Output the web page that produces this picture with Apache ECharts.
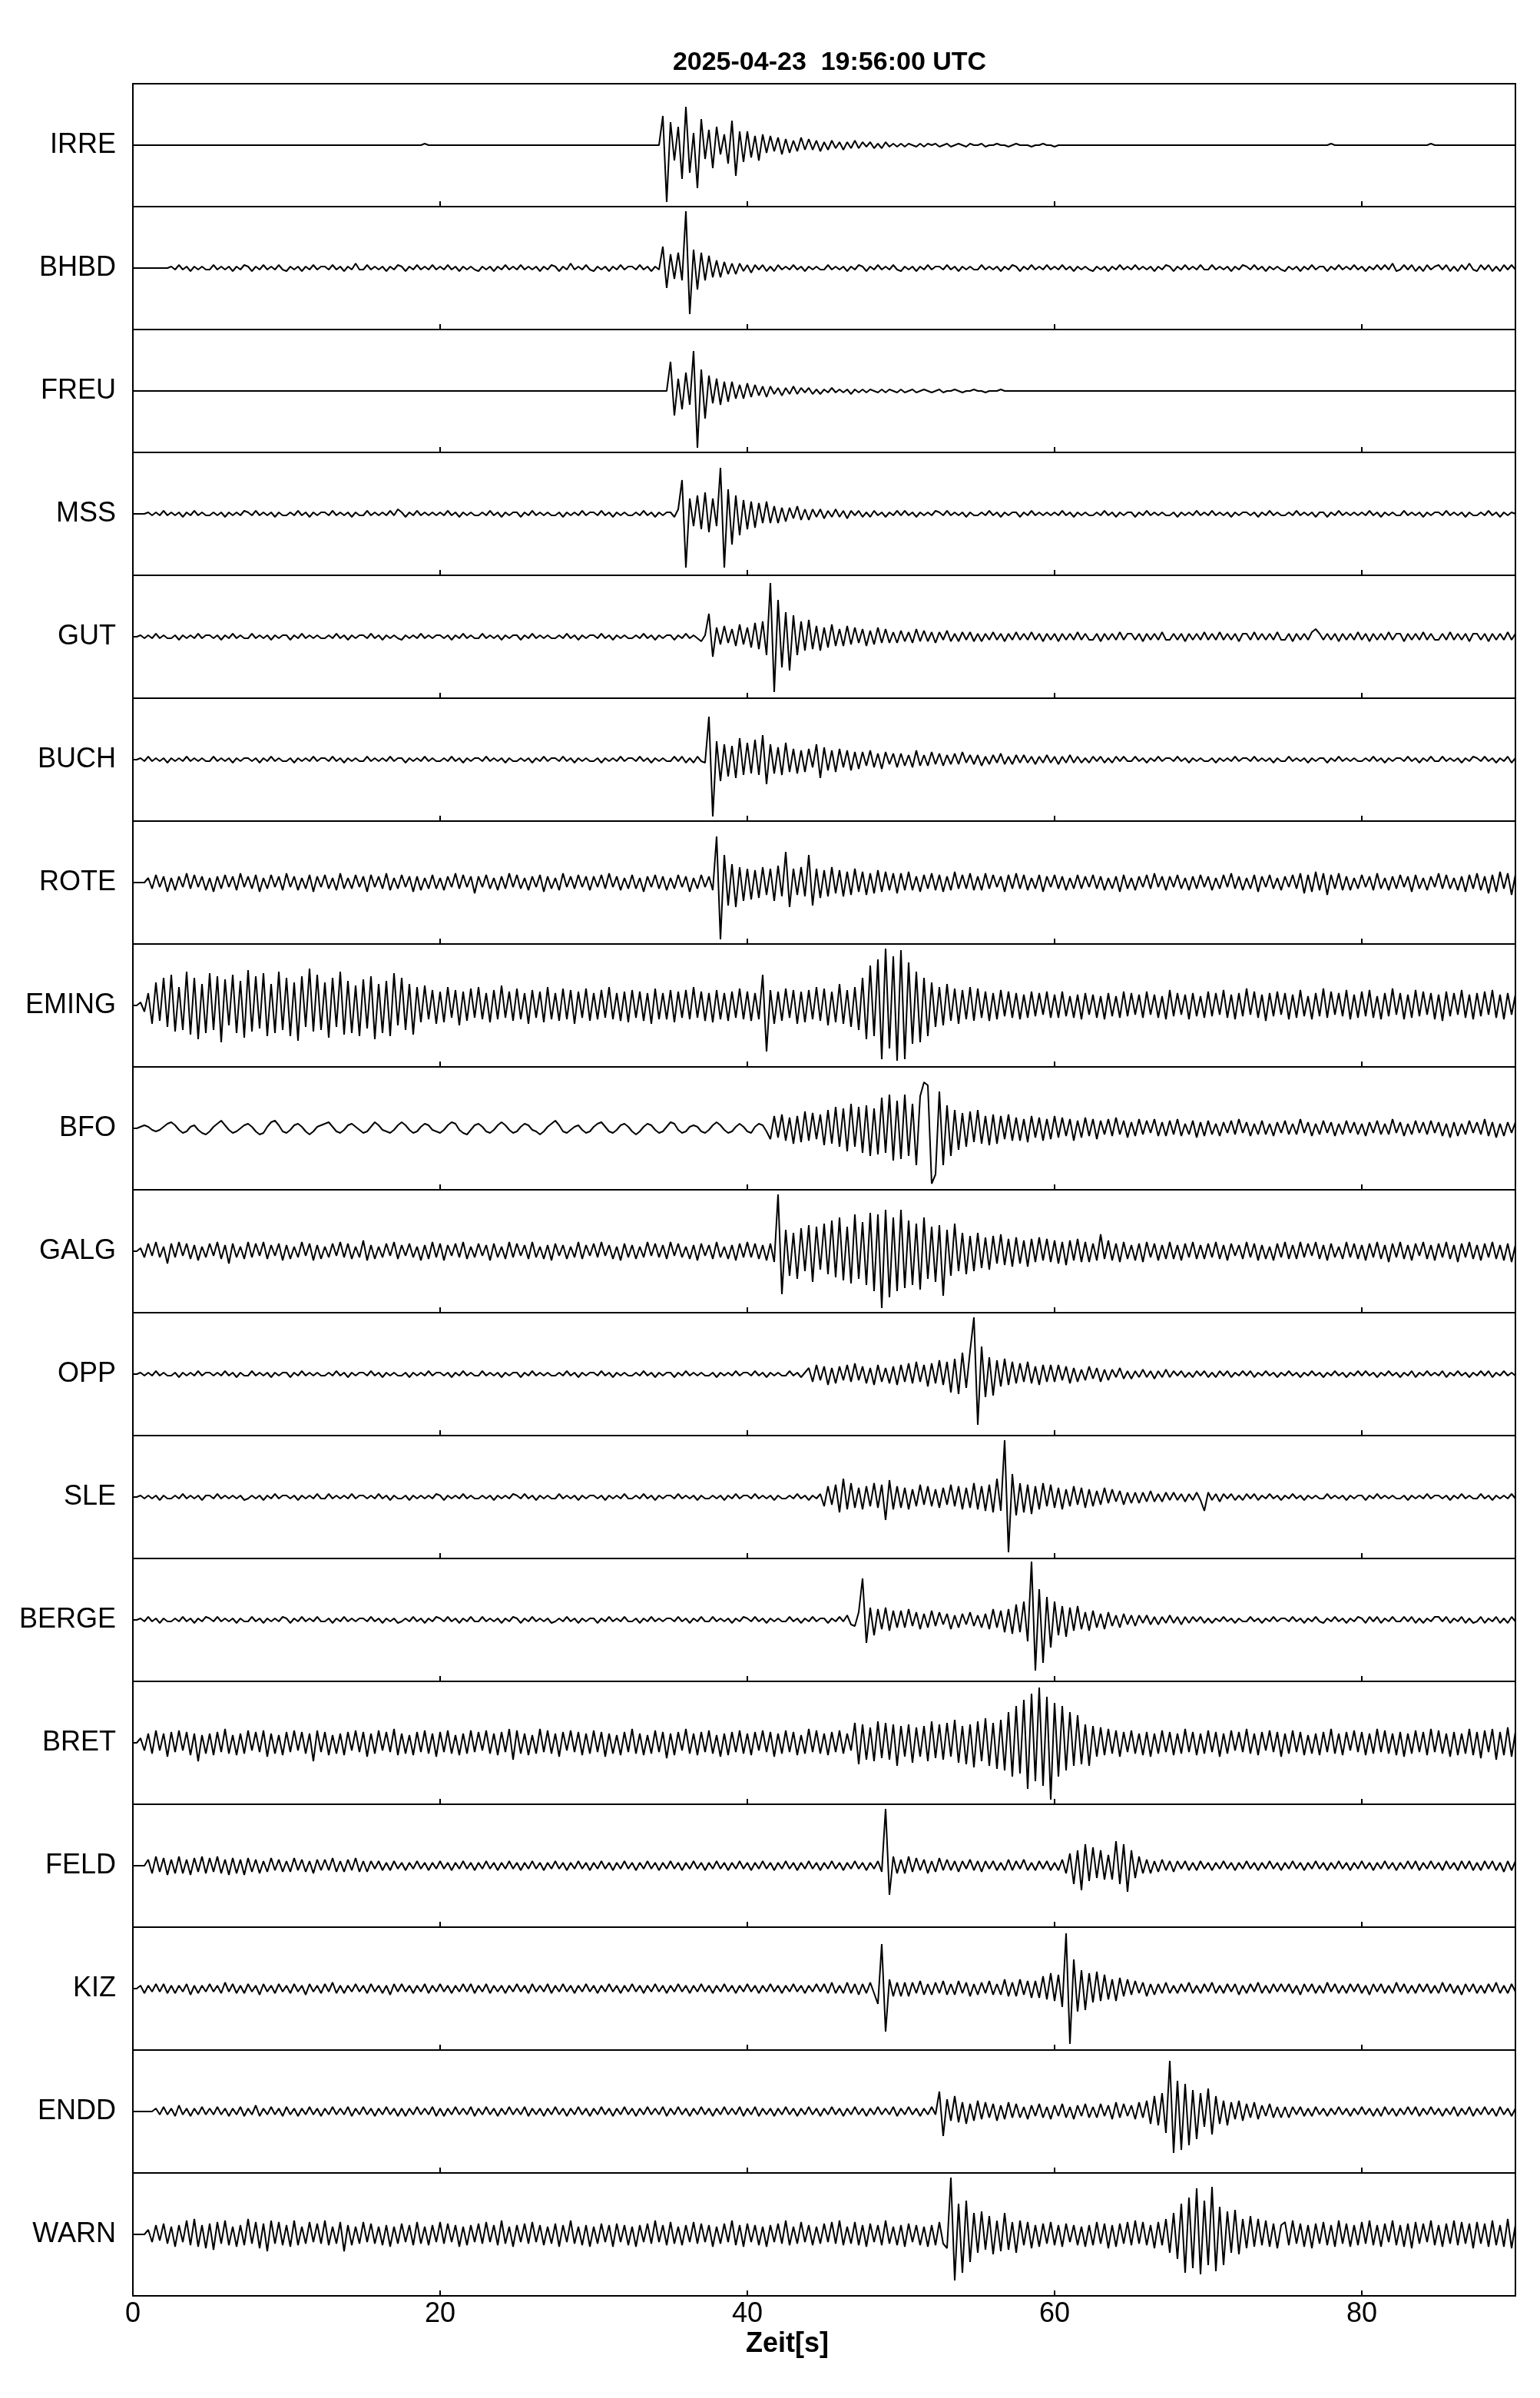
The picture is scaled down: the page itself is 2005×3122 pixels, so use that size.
<!DOCTYPE html>
<html>
<head>
<meta charset="utf-8">
<script src="https://cdn.jsdelivr.net/npm/echarts@6/dist/echarts.min.js"></script>
<style>
  html, body { margin: 0; background: #fff; }
  #chart { width: 2005px; height: 3122px; }
</style>
</head>
<body>
<div id="chart"></div>
<script>
// one sample every 0.25 s, 0 .. 90 s, amplitude in panel units (-40 .. 40)
const dt = 0.25;
const stations = ['IRRE', 'BHBD', 'FREU', 'MSS', 'GUT', 'BUCH', 'ROTE', 'EMING', 'BFO',
  'GALG', 'OPP', 'SLE', 'BERGE', 'BRET', 'FELD', 'KIZ', 'ENDD', 'WARN'];
const xTickStep = 20;
const xMax = 90;
const titleText = '2025-04-23  19:56:00 UTC';
const xName = 'Zeit[s]';

const IRRE = [
  0,0,0,0,0,0,0,0,0,0, 0,0,0,0,0,0,0,0,0,0, 0,0,0,0,0,0,0,0,0,0, 0,0,0,0,0,0,0,0,0,0,
  0,0,0,0,0,0,0,0,0,0, 0,0,0,0,0,0,0,0,0,0, 0,0,0,0,0,0,0,0,0,0, 0,0,0,0,0,0,1,0,0,0,
  0,0,0,0,0,0,0,0,0,0, 0,0,0,0,0,0,0,0,0,0, 0,0,0,0,0,0,0,0,0,0, 0,0,0,0,0,0,0,0,0,0,
  0,0,0,0,0,0,0,0,0,0, 0,0,0,0,0,0,0,0,19,-37, 15,-10,12,-22,25,-18,8,-28,17,-9, 10,-15,12,-6,7,-12,16,-20,9,-11,
  9,-8,6,-10,7,-5,6,-4,5,-6, 4,-5,3,-4,5,-3,4,-3,3,-4, 2,-3,3,-2,2,-3,2,-2,3,-2, 2,-1,2,-2,1,-2,2,-1,1,-1,
  1,-1,1,0,-1,1,-1,1,0,1, -1,0,1,-1,0,1,0,-1,1,0, 0,1,-1,0,0,1,0,0,-1,0, 1,0,0,0,-1,0,0,1,0,0,
  -1,0,0,0,0,0,0,0,0,0, 0,0,0,0,0,0,0,0,0,0, 0,0,0,0,0,0,0,0,0,0, 0,0,0,0,0,0,0,0,0,0,
  0,0,0,0,0,0,0,0,0,0, 0,0,0,0,0,0,0,0,0,0, 0,0,0,0,0,0,0,0,0,0, 0,0,1,0,0,0,0,0,0,0,
  0,0,0,0,0,0,0,0,0,0, 0,0,0,0,0,0,0,0,1,0, 0,0,0,0,0,0,0,0,0,0, 0,0,0,0,0,0,0,0,0,0,
  0];
const BHBD = [
  0,0,0,0,0,0,0,0,0,0, 1,-1,2,-1,1,-2,1,-1,1,-1, -1,2,-1,1,-1,1,-2,1,-1,2, 1,-2,1,-1,2,-1,1,-1,2,-1,
  -2,1,-1,1,-2,1,-1,2,-1,1, 1,-1,2,-1,1,-2,1,-1,3,-1, -1,2,-1,1,-1,1,-2,1,-1,2, 1,-2,1,-1,2,-1,1,-1,2,-1,
  1,-1,2,-1,1,-2,1,-1,1,-1, -2,1,-1,1,-2,1,-1,2,-1,1, -1,2,-1,1,-1,1,-2,1,-1,2, 1,-2,1,-1,3,-1,1,-1,2,-1,
  -2,1,-1,1,-2,1,-1,2,-1,1, 1,-1,2,-1,1,-2,1,-1,14,-13, 9,-7,10,-8,37,-30,12,-14,10,-8, 8,-6,5,-6,4,-4,3,-4,3,-2,
  2,-3,2,-1,2,-2,1,-2,2,-1, 1,-1,2,-1,1,-2,1,-1,1,-1, -1,2,-1,1,-1,1,-2,1,-1,2, 1,-2,1,-1,2,-1,1,-1,2,-1,
  -2,1,-1,1,-2,1,-1,2,-1,1, 1,-1,2,-1,1,-2,1,-1,1,-1, -1,2,-1,1,-1,1,-2,1,-1,2, 1,-2,1,-1,2,-1,1,-1,2,-1,
  1,-1,2,-1,1,-2,1,-1,1,-1, -2,1,-1,1,-2,1,-1,2,-1,1, -1,2,-1,1,-1,1,-2,1,-1,2, 1,-2,1,-1,2,-1,1,-1,2,-1,
  -1,2,-1,1,-1,1,-2,1,-1,2, 1,-1,2,-1,1,-2,1,-1,1,-1, -2,1,-1,1,-2,1,-1,2,-1,1, 1,-2,1,-1,2,-1,1,-1,2,-1,
  1,-2,1,-1,2,-1,2,-1,3,-2, -1,2,-1,2,-2,1,-2,2,-1,1, 2,-1,2,-2,1,-2,2,-1,3,-1, -2,2,-1,2,-2,1,-2,2,-1,2,
  -1];
const FREU = [
  0,0,0,0,0,0,0,0,0,0, 0,0,0,0,0,0,0,0,0,0, 0,0,0,0,0,0,0,0,0,0, 0,0,0,0,0,0,0,0,0,0,
  0,0,0,0,0,0,0,0,0,0, 0,0,0,0,0,0,0,0,0,0, 0,0,0,0,0,0,0,0,0,0, 0,0,0,0,0,0,0,0,0,0,
  0,0,0,0,0,0,0,0,0,0, 0,0,0,0,0,0,0,0,0,0, 0,0,0,0,0,0,0,0,0,0, 0,0,0,0,0,0,0,0,0,0,
  0,0,0,0,0,0,0,0,0,0, 0,0,0,0,0,0,0,0,0,0, 19,-16,8,-12,12,-9,26,-37,14,-18, 10,-8,8,-9,6,-7,6,-5,4,-5,
  5,-4,4,-3,3,-4,3,-2,2,-3, 2,-2,3,-2,2,-1,2,-2,1,-2, 1,-1,2,-1,1,-1,1,-2,1,-1, 1,-1,1,0,-1,1,-1,1,0,-1,
  1,-1,0,1,-1,0,1,0,-1,0, 1,-1,0,0,1,0,-1,0,0,1, 0,0,-1,0,0,0,1,0,0,0, 0,0,0,0,0,0,0,0,0,0,
  0,0,0,0,0,0,0,0,0,0, 0,0,0,0,0,0,0,0,0,0, 0,0,0,0,0,0,0,0,0,0, 0,0,0,0,0,0,0,0,0,0,
  0,0,0,0,0,0,0,0,0,0, 0,0,0,0,0,0,0,0,0,0, 0,0,0,0,0,0,0,0,0,0, 0,0,0,0,0,0,0,0,0,0,
  0,0,0,0,0,0,0,0,0,0, 0,0,0,0,0,0,0,0,0,0, 0,0,0,0,0,0,0,0,0,0, 0,0,0,0,0,0,0,0,0,0,
  0];
const MSS = [
  0,0,0,0,1,-1,1,-1,2,-1, 1,-1,1,-2,1,-1,2,-1,1,-1, -1,1,-1,1,-2,1,-1,1,-1,2, 1,-1,2,-1,1,-1,1,-2,1,-1,
  -1,1,-1,2,-1,1,-2,1,-1,1, 1,-1,2,-1,1,-1,1,-2,1,-1, -1,2,-1,1,-1,1,-1,2,-1,3, 1,-2,1,-1,2,-1,1,-1,1,-1,
  1,-1,2,-1,1,-2,1,-1,1,-1, -1,1,-1,2,-1,1,-2,1,-1,1, 1,-2,1,-1,2,-1,1,-1,1,-1, -1,1,-2,1,-1,1,-1,2,-1,1,
  1,-1,2,-1,1,-2,1,-1,1,-1, -1,1,-1,2,-1,1,-2,1,-1,1, 1,-2,3,22,-35,10,-8,12,-10,14, -12,10,-8,30,-35,16,-20,12,-14,9,
  -10,8,-9,7,-6,8,-6,5,-6,4, -5,4,-3,5,-4,3,-4,3,-2,3, -3,2,-2,3,-2,2,-3,2,-1,2, -2,1,-2,2,-1,1,-2,1,-1,2,
  -1,2,-1,1,-2,1,-1,1,-1,2, 1,-1,2,-1,1,-1,1,-2,1,-1, -1,1,-1,2,-1,1,-2,1,-1,1, 1,-2,1,-1,2,-1,1,-1,1,-1,
  1,-1,2,-1,1,-2,1,-1,1,-1, -1,1,-1,2,-1,1,-2,1,-1,1, 1,-2,1,-1,2,-1,1,-1,1,-1, -1,1,-2,1,-1,1,-1,2,-1,1,
  -1,2,-1,1,-1,1,-2,1,-1,1, 1,-1,1,-2,1,-1,2,-1,1,-1, -1,1,-1,2,-1,1,-1,1,-2,1, 1,-2,1,-1,2,-1,1,-1,1,-1,
  1,-1,2,-1,1,-2,1,-1,1,-1, -1,2,-1,1,-1,1,-2,1,-1,1, 1,-1,2,-1,1,-1,1,-2,1,-1, -1,1,-1,2,-1,1,-2,1,-1,1,
  0];
const GUT = [
  0,0,1,-1,1,-1,2,-1,1,-1, -1,1,-2,1,-1,1,-1,2,-1,1, 1,-1,1,-2,1,-1,2,-1,1,-1, -1,2,-1,1,-1,1,-2,1,-1,1,
  1,-2,1,-1,2,-1,1,-1,1,-1, -1,1,-1,2,-1,1,-2,1,-1,1, 1,-1,2,-1,1,-2,1,-1,1,-1, -2,1,-1,1,-1,2,-1,1,-1,1,
  1,-1,1,-2,1,-1,2,-1,1,-1, -1,2,-1,1,-1,1,-2,1,-1,1, 1,-2,1,-1,2,-1,1,-1,1,-1, -1,1,-1,2,-1,1,-2,1,-1,1,
  1,-1,2,-1,1,-2,1,-1,1,-1, -1,1,-1,2,-1,1,-2,1,-1,1, 1,-2,1,-1,2,-1,1,-1,-3,1, 15,-13,6,-5,7,-4,5,-6,8,-5,
  6,-7,9,-8,10,-12,35,-36,24,-20, 16,-22,14,-12,10,-9,11,-8,7,-9, 6,-7,8,-6,5,-6,7,-5,6,-4, 5,-6,4,-5,6,-4,5,-4,3,-4,
  4,-3,3,-4,5,-3,4,-3,3,-4, 3,-2,4,-3,2,-3,3,-2,3,-3, 2,-3,2,-2,3,-2,2,-3,2,-2, 3,-2,2,-2,3,-2,2,-3,2,-2,
  2,-3,2,-2,2,-2,3,-2,2,-2, -2,2,-3,2,-2,2,-2,3,-2,2, 2,-2,2,-3,2,-2,2,-2,3,-2, -2,2,-2,2,-3,2,-2,2,-2,3,
  -2,2,-2,3,-2,2,-2,2,-3,2, 2,-2,3,-2,2,-2,2,-2,3,-2, -2,2,-3,2,-2,2,-2,3,5,2, -2,2,-2,2,-3,2,-2,2,-2,3,
  -2,2,-3,2,-2,2,-2,3,-2,2, 2,-3,2,-2,2,-2,3,-2,2,-2, -2,2,-2,3,-2,2,-2,2,-3,2, 2,-2,2,-3,2,-2,2,-2,3,-2,
  2];
const BUCH = [
  0,0,1,-1,2,-1,1,-1,1,-2, 1,-1,1,-1,2,-1,1,-1,1,-1, -1,2,-1,1,-1,1,-2,1,-1,1, 1,-1,1,-2,1,-1,2,-1,1,-1,
  -1,1,-2,1,-1,1,-1,2,-1,1, 1,-1,2,-1,1,-2,1,-1,1,-1, -1,2,-1,1,-1,1,-1,2,-1,1, 1,-2,1,-1,1,-1,2,-1,1,-1,
  -1,1,-1,2,-1,1,-2,1,-1,1, 1,-1,2,-1,1,-1,1,-2,1,-1, -1,1,-1,1,-2,1,-1,2,-1,1, 1,-1,2,-1,1,-2,1,-1,1,-1,
  -1,1,-2,1,-1,1,-1,2,-1,1, 1,-1,2,-1,1,-2,1,-1,1,-1, -1,2,-1,2,-2,1,-2,2,-1,-2, 28,-37,12,-14,10,-11,9,-12,14,-10,
  11,-9,13,-10,16,-16,10,-9,8,-10, 11,-8,7,-9,6,-8,7,-5,10,-12, 8,-7,6,-8,7,-5,6,-7,5,-6, 5,-4,6,-5,4,-6,5,-3,4,-5,
  4,-4,3,-5,6,-4,3,-4,5,-3, 4,-4,3,-3,4,-3,5,-2,3,-3, 3,-4,2,-3,3,-2,4,-3,2,-3, 3,-2,3,-2,2,-3,2,-2,3,-2,
  2,-3,2,-2,3,-2,2,-2,1,-2, 2,-1,2,-2,1,-2,2,-1,2,-1, -1,2,-1,1,-2,1,-1,2,-1,1, 1,-1,2,-1,1,-2,1,-1,1,-1,
  -1,1,-2,1,-1,1,-1,2,-1,1, 1,-1,2,-1,1,-1,1,-2,1,-1, -1,2,-1,1,-1,1,-2,1,-1,1, 1,-2,1,-1,2,-1,1,-1,1,-1,
  -1,1,-1,2,-1,1,-2,1,-1,1, 1,-1,2,-1,1,-2,1,-1,2,-1, -1,2,-1,1,-1,1,-2,1,-1,2, 1,-1,2,-1,1,-2,1,-1,2,-2,
  1];
const ROTE = [
  0,0,0,0,3,-4,5,-3,4,-6, 3,-5,4,-3,6,-4,5,-3,4,-5, 3,-6,4,-4,5,-3,4,-5,6,-3, 4,-4,5,-6,3,-4,5,-3,4,-5,
  6,-3,4,-5,3,-4,5,-6,4,-3, 5,-4,3,-5,6,-4,3,-4,5,-3, 4,-6,5,-3,4,-4,6,-5,3,-4, 5,-3,4,-6,4,-5,3,-4,5,-4,
  3,-5,4,-3,6,-4,5,-3,4,-7, 4,-3,5,-4,3,-5,4,-4,6,-3, 5,-4,3,-5,4,-3,5,-6,4,-4, 3,-5,6,-3,4,-4,5,-3,4,-5,
  4,-3,5,-4,6,-3,4,-5,3,-4, 5,-4,3,-6,4,-3,5,-4,4,-5, 3,-4,5,-3,4,-6,3,-4,5,-3, 4,-5,30,-37,18,-15,12,-16,10,-12,
  9,-11,8,-10,10,-8,9,-12,11,-9, 20,-16,9,-8,10,-9,18,-15,9,-10, 8,-9,10,-7,8,-9,7,-8,9,-6, 7,-8,6,-7,8,-6,7,-5,6,-7,
  6,-5,7,-5,4,-6,5,-4,6,-5, 5,-6,4,-5,7,-4,5,-4,6,-5, 4,-5,6,-4,5,-3,4,-6,5,-4, 6,-4,5,-5,3,-4,5,-6,4,-3,
  5,-4,4,-5,3,-4,5,-4,4,-3, 5,-4,4,-5,3,-4,4,-6,5,-4, 3,-5,4,-3,5,-4,6,-3,4,-5, 4,-3,5,-4,3,-5,4,-4,5,-3,
  4,-5,3,-4,5,-3,6,-4,4,-5, 3,-4,5,-6,4,-3,5,-4,3,-5, 4,-3,5,-4,6,-7,5,-6,7,-5, 6,-8,5,-4,6,-5,4,-5,3,-4,
  5,-3,4,-5,6,-4,3,-5,4,-4, 5,-3,4,-6,5,-4,3,-5,4,-3, 6,-4,5,-4,3,-5,4,-6,5,-4, 6,-5,4,-7,5,-6,7,-4,6,-8,
  5];
const EMING = [
  0,0,2,-4,8,-12,15,-10,18,-14, 20,-17,12,-16,22,-19,18,-22,14,-18, 21,-16,19,-24,17,-13,20,-18,16,-21, 23,-17,19,-15,21,-20,14,-18,22,-16,
  18,-20,15,-23,19,-14,24,-17,20,-16, 15,-21,18,-14,22,-19,16,-18,13,-20, 17,-15,19,-22,14,-18,16,-20,21,-13, 18,-16,14,-19,12,-11,13,-9,10,-12,
  9,-11,12,-8,10,-13,9,-10,11,-8, 12,-9,8,-11,10,-9,13,-8,9,-10, 11,-9,8,-12,10,-8,9,-11,12,-9, 8,-10,11,-9,10,-12,9,-8,11,-10,
  8,-9,10,-8,12,-9,8,-10,9,-11, 10,-8,9,-10,8,-12,11,-9,8,-9, 10,-11,9,-8,10,-9,12,-8,9,-10, 8,-11,10,-9,8,-10,9,-8,11,-9,
  9,-10,8,-9,20,-30,10,-12,9,-10, 11,-8,10,-12,9,-11,10,-9,12,-10, 11,-13,9,-11,14,-12,10,-14,12,-16, 18,-22,26,-20,30,-35,37,-28,32,-36,
  36,-35,28,-25,22,-24,18,-20,15,-14, 12,-13,14,-10,11,-12,10,-9,12,-10, 11,-8,9,-10,8,-9,10,-7,9,-8, 8,-9,7,-8,9,-7,8,-6,9,-8,
  7,-8,9,-7,6,-8,7,-9,8,-6, 7,-8,6,-9,8,-7,6,-8,9,-7, 8,-6,7,-8,9,-6,7,-8,6,-9, 10,-7,8,-6,7,-9,8,-7,6,-8,
  9,-7,8,-6,10,-8,7,-9,8,-7, 11,-6,9,-8,7,-10,8,-7,9,-6, 8,-9,7,-8,10,-7,6,-9,8,-7, 11,-8,9,-6,8,-7,10,-9,7,-8,
  9,-7,10,-8,6,-9,8,-7,11,-6, 8,-9,7,-8,10,-7,9,-6,8,-9, 7,-10,9,-7,8,-6,10,-8,7,-9, 8,-7,9,-6,10,-8,7,-9,8,-6,
  7];
const BFO = [
  0,0,1,2,1,-1,-2,-1,1,3, 4,2,-1,-3,-2,1,2,-1,-3,-4, -2,1,3,5,2,-1,-3,-2,0,2, 3,1,-2,-4,-3,1,4,5,2,-2,
  -3,-1,2,3,1,-2,-4,-2,1,2, 3,4,1,-2,-3,-1,2,3,1,-1, -3,-2,1,4,2,-1,-2,-3,-1,2, 4,2,-1,-3,-2,1,3,2,-1,-2,
  -3,-1,2,4,3,-1,-3,-4,-1,2, 3,1,-2,-3,-1,2,4,2,-1,-3, -2,1,3,2,-1,-2,-4,-2,1,3, 5,2,-2,-3,-1,1,2,-1,-3,-2,
  1,3,4,1,-2,-3,-1,2,3,1, -2,-4,-2,1,3,2,-1,-3,-2,1, 4,3,-1,-3,-2,1,2,1,-2,-3, -1,2,4,2,-1,-3,-2,1,3,1,
  -2,-3,1,3,2,-2,-7,8,-6,9, -8,7,-10,8,-9,11,-8,10,-7,9, -11,12,-10,14,-12,13,-15,16,-12,14, -16,15,-18,13,-17,20,-16,22,-21,18,
  -20,22,-18,16,-24,21,30,28,-36,-30, 24,-24,15,-18,12,-14,10,-12,11,-9, 12,-10,8,-11,9,-10,8,-7,9,-8, 7,-8,6,-9,8,-6,7,-8,6,-7,
  8,-6,7,-5,6,-8,5,-6,7,-5, 6,-7,5,-4,6,-5,7,-4,5,-6, 4,-5,6,-4,5,-3,6,-5,4,-5, 5,-4,6,-5,3,-4,5,-6,4,-5,
  5,-4,3,-5,4,-3,5,-4,6,-3, 4,-5,3,-4,5,-4,3,-5,4,-3, 5,-4,3,-4,6,-3,4,-5,3,-4, 5,-3,4,-5,3,-4,5,-3,4,-4,
  3,-5,4,-3,5,-4,3,-4,6,-3, 4,-5,3,-4,5,-3,4,-4,5,-3, 4,-5,3,-6,4,-5,3,-4,5,-3, 4,-4,6,-5,4,-6,3,-5,4,-3,
  4];
const GALG = [
  0,0,2,-4,5,-3,6,-4,3,-8, 5,-4,6,-3,5,-5,4,-6,3,-4, 5,-3,6,-5,4,-8,5,-4,3,-5, 6,-4,5,-3,6,-5,4,-3,5,-6,
  4,-5,3,-4,6,-3,5,-6,4,-5, 3,-4,5,-3,6,-4,5,-5,3,-4, 7,-6,4,-5,3,-4,5,-3,6,-5, 4,-3,5,-4,3,-6,4,-5,6,-4,
  5,-6,4,-3,5,-4,6,-5,3,-4, 5,-3,4,-6,5,-4,3,-5,6,-4, 5,-3,4,-5,6,-4,3,-5,4,-6, 5,-3,4,-5,3,-4,6,-5,4,-3,
  5,-4,6,-3,4,-5,3,-6,5,-4, 4,-5,3,-4,6,-3,5,-4,4,-5, 6,-3,5,-4,3,-5,4,-6,5,-3, 4,-5,6,-4,3,-5,4,-6,5,-4,
  6,-4,5,-5,4,-6,5,-7,37,-28, 14,-16,12,-18,15,-13,17,-20,16,-12, 18,-15,20,-17,22,-19,16,-21,24,-18, 19,-22,25,-26,24,-37,27,-30,22,-26,
  27,-24,20,-22,18,-25,22,-18,16,-20, 17,-29,14,-16,18,-13,12,-15,10,-13, 12,-11,9,-12,10,-8,11,-9,8,-10, 9,-8,7,-10,8,-7,9,-6,8,-7,
  7,-8,6,-9,7,-6,8,-7,6,-7, 5,-6,11,-5,7,-6,5,-7,6,-5, 4,-6,5,-7,6,-4,5,-6,4,-5, 6,-5,4,-6,5,-4,6,-5,4,-5,
  5,-4,6,-5,4,-6,5,-3,4,-5, 6,-4,5,-6,4,-5,3,-6,5,-4, 6,-5,4,-5,6,-4,5,-3,6,-5, 4,-6,5,-4,3,-5,6,-4,5,-5,
  4,-6,5,-4,6,-5,4,-7,5,-4, 6,-5,4,-6,5,-3,6,-5,4,-6, 5,-4,6,-5,4,-7,5,-4,6,-5, 4,-6,5,-4,6,-5,4,-6,5,-7,
  4];
const OPP = [
  0,0,1,-1,1,-1,2,-1,1,-1, -1,1,-2,1,-1,1,-1,2,-1,1, 1,-1,1,-1,2,-1,1,-2,1,-1, -1,2,-1,1,-1,1,-2,1,-1,1,
  1,-2,1,-1,2,-1,1,-1,1,-1, -1,1,-1,2,-1,1,-2,1,-1,1, 1,-1,2,-1,1,-2,1,-1,1,-1, -1,1,-2,1,-1,1,-1,2,-1,1,
  1,-1,1,-2,1,-1,2,-1,1,-1, -1,2,-1,1,-1,1,-2,1,-1,1, 1,-2,1,-1,2,-1,1,-1,1,-1, -1,1,-1,2,-1,1,-2,1,-1,1,
  1,-1,2,-1,1,-2,1,-1,1,-1, -1,1,-1,2,-1,1,-2,1,-1,1, 1,-2,1,-1,2,-1,1,-1,1,-1, -1,1,-2,1,-1,1,-1,2,-1,1,
  1,-1,2,-1,1,-2,1,-1,1,-1, -1,2,-1,1,-2,1,4,-5,6,-4, 5,-7,4,-6,5,-4,6,-5,7,-4, 5,-6,4,-7,6,-5,4,-6,5,-7,
  6,-5,7,-6,8,-5,6,-8,7,-6, 9,-7,8,-12,10,-13,14,-9,15,37, -33,18,-15,11,-14,9,-8,10,-7,8, -6,7,-5,8,-6,5,-7,6,-5,6,
  -5,6,-4,5,-6,4,-5,3,-4,5, -3,4,-5,3,-4,3,-2,4,-3,2, -3,2,-2,3,-2,2,-3,2,-2,3, -2,2,-1,2,-2,1,-2,2,-1,2,
  -2,1,-2,2,-1,2,-2,1,-1,2, -1,2,-2,1,-1,2,-1,1,-2,1, -1,2,-1,1,-2,1,-1,2,-1,1, -2,1,-1,2,-1,1,-2,1,-1,2,
  -1,2,-1,1,-2,1,-1,2,-1,1, -2,1,-1,2,-2,1,-1,2,-1,1, -1,2,-2,1,-1,2,-1,1,-2,1, -1,2,-1,2,-2,1,-1,2,-1,1,
  -1];
const SLE = [
  0,0,1,-1,1,-1,1,-2,1,-1, -1,1,-1,2,-1,1,-1,1,-2,1, 1,-1,2,-1,1,-1,1,-1,1,-2, -1,1,-1,1,-2,1,-1,2,-1,1,
  1,-1,1,-2,1,-1,1,-1,2,-1, -1,2,-1,1,-1,1,-1,2,-1,1, 1,-1,1,-1,2,-1,1,-2,1,-1, -1,1,-2,1,-1,1,-1,1,-1,2,
  1,-2,1,-1,1,-1,2,-1,1,-1, -1,1,-1,1,-2,1,-1,1,-1,2, 1,-1,2,-1,1,-2,1,-1,1,-1, -1,2,-1,1,-1,1,-2,1,-1,1,
  1,-1,1,-2,1,-1,1,-1,2,-1, -1,1,-1,2,-1,1,-2,1,-1,1, 1,-1,2,-1,1,-1,1,-2,1,-1, -1,1,-1,1,-2,1,-1,2,-1,1,
  1,-1,2,-1,1,-1,1,-2,1,-1, -1,1,-1,2,-1,1,-2,1,-1,2, -6,7,-5,8,-10,12,-8,9,-7,6, -8,7,-6,9,-7,8,-15,11,-8,7,
  -7,6,-8,5,-6,8,-5,7,-6,5, -7,6,-5,8,-6,7,-8,6,-7,9, -8,7,-9,8,-10,12,-9,37,-36,15, -12,9,-10,8,-11,7,-8,9,-6,8,
  -7,6,-8,5,-6,7,-5,6,-7,5, -6,4,-5,6,-4,5,-3,4,-5,3, -4,3,-4,3,-3,4,-3,2,-3,3, -2,3,-2,2,-3,2,-2,3,-2,-9,
  3,-2,2,-3,2,-1,2,-2,1,-2, 2,-1,2,-2,1,-1,2,-1,1,-2, 1,-1,2,-1,1,-2,1,-1,1,-1, -1,2,-1,1,-1,1,-2,1,-1,1,
  1,-2,1,-1,2,-1,1,-1,1,-1, -1,1,-2,1,-1,1,-1,2,-1,1, 1,-1,1,-2,1,-1,2,-1,1,-1, -1,2,-1,1,-2,1,-1,1,-1,2,
  -1];
const BERGE = [
  0,0,1,-1,2,-1,1,-2,1,-1, -1,1,-1,2,-1,1,-2,1,-1,2, 1,-1,2,-1,1,-1,1,-2,1,-1, -1,2,-1,1,-2,1,-1,1,-1,2,
  1,-2,1,-1,2,-1,1,-1,2,-1, -1,1,-2,1,-1,2,-1,1,-1,1, 1,-1,2,-1,1,-2,1,-1,1,-2, -1,1,-1,2,-1,1,-2,1,-1,2,
  1,-1,2,-1,1,-2,1,-1,2,-1, -1,2,-1,1,-1,1,-2,1,-1,2, 1,-2,1,-1,2,-1,1,-1,1,-2, -1,1,-1,2,-1,1,-2,1,-1,1,
  1,-2,1,-1,2,-1,1,-1,2,-1, -1,1,-2,1,-1,2,-1,1,-1,1, 1,-1,2,-1,1,-2,1,-1,2,-1, -1,2,-1,1,-1,1,-2,1,-1,2,
  1,-1,2,-1,1,-2,1,-1,1,-1, -1,2,-1,1,-2,1,-1,2,-1,1, 1,-2,1,-1,2,-1,3,-3,-4,5, 27,-15,8,-10,7,-6,8,-7,6,-5,
  6,-5,7,-4,5,-6,4,-5,6,-4, 5,-3,4,-6,3,-5,4,-3,5,-4, 3,-5,4,-6,7,-5,6,-8,7,-9, 10,-8,12,-14,38,-33,20,-28,15,-18,
  12,-10,9,-11,8,-7,9,-6,5,-7, 6,-5,4,-6,5,-4,3,-5,4,-3, 3,-4,3,-2,3,-3,2,-3,2,-2, 3,-2,2,-3,2,-2,2,-1,2,-2,
  1,-2,1,-1,2,-1,1,-2,1,-1, -1,2,-1,1,-2,1,-1,2,-1,1, 1,-1,2,-1,1,-2,1,-1,2,-1, -2,1,-1,2,-1,1,-2,1,-1,2,
  1,-2,2,-1,2,-2,1,-1,2,-1, -1,2,-1,2,-2,1,-2,1,-1,2, 2,-1,2,-2,1,-1,2,-2,1,-2, -1,2,-2,1,-1,2,-2,1,-2,2,
  -1];
const BRET = [
  0,0,3,-5,6,-7,8,-5,6,-9, 7,-6,8,-5,7,-8,6,-12,5,-7, 6,-8,7,-6,9,-7,5,-8,6,-7, 8,-5,7,-6,8,-9,6,-7,5,-8,
  7,-6,8,-5,7,-7,6,-12,8,-6, 7,-8,5,-7,6,-8,7,-5,8,-6, 7,-9,6,-7,8,-5,7,-6,9,-8, 6,-7,5,-8,7,-6,8,-7,6,-9,
  7,-6,8,-7,5,-8,6,-7,8,-6, 7,-5,8,-7,6,-8,7,-6,9,-11, 8,-7,6,-8,5,-7,9,-6,8,-7, 6,-9,7,-5,8,-6,7,-8,6,-7,
  8,-6,7,-9,6,-7,5,-8,7,-6, 9,-7,6,-8,5,-7,8,-6,7,-10, 6,-8,7,-5,9,-7,6,-8,7,-6, 8,-7,5,-9,6,-8,7,-6,8,-7,
  6,-8,7,-5,8,-6,7,-9,6,-7, 8,-6,7,-8,5,-7,9,-6,8,-7, 6,-8,7,-6,8,-7,6,-5,13,-14, 12,-11,10,-12,14,-10,13,-11,12,-15,
  11,-9,12,-13,10,-9,11,-12,14,-10, 12,-11,13,-9,15,-13,11,-14,12,-16, 14,-12,16,-15,13,-17,15,-18,20,-22, 24,-20,28,-30,32,-25,36,-28,30,-37,
  26,-22,24,-18,20,-15,18,-14,12,-15, 11,-9,10,-8,9,-7,8,-9,7,-6, 8,-7,6,-8,7,-9,6,-7,8,-6, 7,-8,6,-7,9,-6,7,-8,6,-7,
  8,-6,7,-9,6,-7,8,-5,7,-6, 9,-7,6,-8,7,-5,8,-6,7,-9, 6,-7,8,-6,7,-8,5,-7,6,-8, 7,-6,9,-7,6,-8,7,-5,8,-6,
  7,-8,6,-7,9,-6,8,-7,6,-8, 7,-9,6,-7,8,-6,7,-8,9,-6, 8,-7,6,-9,7,-8,6,-7,9,-8, 7,-10,8,-6,9,-11,7,-8,10,-9,
  7];
const FELD = [
  0,0,0,0,4,-5,6,-4,5,-6, 4,-5,6,-5,4,-6,5,-4,6,-5, 5,-4,6,-5,4,-6,5,-5,4,-6, 5,-4,4,-5,3,-4,5,-3,4,-4,
  3,-4,5,-3,4,-4,3,-5,4,-3, 4,-3,5,-4,3,-4,4,-3,5,-4, 3,-4,3,-2,3,-3,2,-3,3,-2, 2,-3,2,-2,3,-2,2,-3,2,-2,
  3,-2,2,-3,2,-2,3,-2,2,-3, 2,-2,3,-2,2,-3,2,-2,3,-2, 2,-3,2,-2,3,-2,2,-3,2,-2, 3,-2,2,-3,2,-2,3,-2,2,-3,
  2,-2,3,-2,2,-3,2,-2,3,-2, 2,-3,2,-2,3,-2,2,-3,2,-2, 3,-2,2,-3,2,-2,3,-2,2,-3, 2,-2,3,-2,2,-3,2,-2,3,-2,
  2,-3,2,-2,3,-2,2,-3,2,-2, 3,-2,2,-3,2,-2,3,-2,2,-3, 2,-2,3,-2,2,-3,2,-2,3,-2, 2,-3,2,-2,3,-4,37,-19,6,-5,
  4,-5,6,-4,5,-3,4,-5,3,-4, 5,-3,4,-3,3,-4,3,-2,4,-3, 3,-4,3,-2,3,-3,2,-3,4,-3, 3,-2,4,-3,2,-3,3,-2,3,-3,
  2,-3,4,-5,8,-12,10,-16,14,-10, 12,-8,10,-9,7,-9,16,-12,14,-17, 10,-8,6,-5,4,-5,3,-4,4,-3, 3,-4,3,-2,3,-3,2,-3,3,-2,
  2,-3,2,-2,3,-2,2,-3,2,-2, 3,-2,2,-3,2,-2,3,-2,2,-3, 2,-2,3,-2,2,-3,2,-2,3,-2, 2,-3,2,-2,3,-2,2,-3,2,-2,
  3,-2,2,-3,2,-2,3,-2,2,-3, 2,-2,3,-2,3,-3,2,-2,3,-2, 2,-3,3,-2,2,-3,3,-2,3,-3, 2,-3,3,-2,3,-3,2,-4,3,-3,
  3];
const KIZ = [
  0,0,2,-3,2,-2,3,-2,3,-3, 2,-3,2,-2,3,-4,2,-3,2,-2, 3,-2,2,-3,4,-2,3,-3,2,-3, 3,-2,2,-4,3,-2,2,-3,3,-2,
  2,-3,3,-2,2,-4,3,-2,2,-3, 3,-2,4,-3,2,-3,2,-2,3,-2, 2,-3,3,-2,2,-3,2,-4,3,-2, 3,-2,2,-3,2,-2,3,-3,2,-2,
  3,-2,2,-3,2,-2,3,-2,3,-3, 2,-2,3,-3,2,-2,2,-3,2,-2, 3,-2,2,-3,3,-2,2,-2,3,-3, 2,-2,3,-2,2,-3,2,-2,3,-2,
  2,-3,2,-2,3,-2,2,-3,2,-2, 3,-2,2,-3,2,-2,3,-2,2,-3, 2,-2,3,-2,2,-3,2,-2,3,-2, 2,-3,2,-2,3,-2,2,-3,2,-2,
  3,-2,2,-3,2,-2,3,-2,2,-3, 2,-2,3,-2,2,-3,2,-2,3,-2, 3,-3,4,-3,2,-3,4,-3,3,-4, 3,-3,4,-3,-10,29,-28,6,-5,4,
  -5,4,-5,4,-3,5,-4,3,-4,4, -3,5,-4,3,-4,5,-3,4,-5,3, -4,4,-3,5,-4,3,-4,6,-5,4, -5,6,-4,5,-6,5,-6,8,-7,10,
  -8,9,-12,36,-36,19,-15,12,-14,10, -9,11,-8,9,-7,6,-8,7,-5,6, -4,5,-3,4,-5,3,-4,3,-3,4, -3,2,-3,3,-2,4,-3,2,-3,3,
  -2,4,-3,2,-3,3,-2,3,-4,2, -3,3,-2,4,-3,2,-3,3,-2,3, -2,3,-3,2,-4,3,-2,3,-3,2, -3,4,-2,3,-3,2,-3,3,-2,3,
  -3,2,-4,3,-2,3,-3,2,-3,4, -2,3,-3,2,-3,3,-2,3,-3,2, -3,4,-2,3,-3,2,-4,3,-2,3, -3,2,-3,3,-2,4,-3,2,-3,3,
  -2];
const ENDD = [
  0,0,0,0,0,0,2,-2,3,-2, 2,-3,4,-2,2,-3,2,-2,3,-2, 2,-2,3,-2,2,-3,2,-2,3,-3, 2,-2,4,-3,2,-2,3,-2,2,-3,
  3,-2,2,-3,2,-2,3,-2,2,-3, 2,-2,3,-2,2,-2,3,-3,2,-2, 3,-2,2,-3,2,-2,3,-2,2,-3, 2,-3,2,-2,3,-2,2,-2,3,-3,
  2,-3,2,-2,3,-2,2,-2,3,-3, 2,-2,3,-2,2,-3,2,-2,3,-2, 2,-2,3,-3,2,-2,2,-3,2,-2, 3,-2,2,-3,2,-2,3,-2,2,-3,
  2,-2,3,-2,2,-3,2,-2,3,-2, 2,-3,2,-2,3,-2,2,-2,3,-3, 2,-2,3,-2,2,-3,2,-2,3,-2, 2,-3,2,-2,3,-2,2,-2,3,-3,
  2,-2,3,-3,2,-2,2,-3,2,-2, 3,-2,2,-3,2,-2,3,-2,2,-3, 2,-2,3,-2,2,-3,2,-2,3,-2, 2,-3,2,-2,3,-2,2,-2,3,-3,
  2,-2,3,-2,2,-3,2,-2,3,-2, 13,-16,8,-6,10,-7,6,-8,5,-6, 7,-5,6,-4,5,-6,4,-5,6,-4, 5,-4,3,-5,4,-3,5,-4,3,-5,
  4,-3,5,-4,3,-5,4,-3,5,-4, 3,-4,5,-3,4,-5,6,-4,5,-3, 4,-5,6,-4,7,-8,10,-9,12,-14, 33,-27,20,-25,18,-22,14,-18,12,-10,
  15,-15,10,-8,7,-9,6,-5,7,-6, 5,-4,6,-5,4,-3,5,-4,3,-4, 3,-4,3,-2,3,-3,2,-3,3,-2, 2,-3,2,-2,3,-2,2,-3,2,-2,
  3,-2,2,-3,2,-3,3,-2,2,-3, 2,-2,3,-2,3,-3,2,-2,3,-2, 2,-3,2,-2,3,-3,2,-2,3,-3, 2,-2,3,-2,2,-3,3,-2,2,-3,
  2];
const WARN = [
  0,0,0,0,3,-5,6,-4,7,-6, 5,-8,6,-5,9,-7,10,-8,6,-9, 7,-10,8,-6,9,-7,5,-8,6,-7, 10,-6,8,-9,7,-11,9,-6,8,-7,
  6,-8,9,-7,5,-6,8,-5,7,-6, 9,-7,5,-6,8,-11,6,-7,5,-6, 8,-5,7,-6,5,-7,6,-8,5,-6, 7,-5,6,-7,8,-6,5,-7,6,-5,
  8,-6,7,-5,6,-8,5,-7,6,-5, 7,-6,8,-5,6,-7,9,-6,5,-8, 6,-5,7,-6,8,-5,6,-7,5,-6, 7,-8,6,-5,9,-6,5,-7,6,-8,
  5,-6,7,-5,6,-8,7,-5,6,-7, 5,-8,6,-5,7,-6,9,-5,6,-7, 8,-6,5,-7,6,-5,8,-6,7,-5, 6,-8,5,-6,7,-5,9,-7,6,-8,
  7,-5,6,-7,5,-8,6,-5,7,-6, 9,-7,5,-6,8,-5,6,-7,5,-6, 7,-5,8,-6,9,-7,5,-6,8,-7, 6,-8,7,-5,6,-7,9,-6,5,-7,
  6,-8,7,-5,6,-7,5,-8,6,-7, 8,-6,-9,37,-30,20,-25,22,-18,14, -12,15,-10,12,-13,9,-11,14,-10,8, -12,9,-7,8,-9,6,-8,7,-6,8,
  -7,6,-8,7,-5,6,-7,5,-8,6, -7,8,-6,7,-9,6,-8,7,-6,8, -7,9,-6,8,-7,6,-9,8,-7,10, -12,14,-16,20,-25,24,-22,30,-26,22,
  -20,31,-24,18,-20,15,-12,16,-13,10, -9,12,-8,10,-7,9,-8,7,-9,6, 8,-7,9,-6,7,-8,6,-9,7,-6, 8,-7,6,-8,9,-6,7,-8,6,-7,
  8,-6,9,-7,6,-8,7,-5,9,-7, 6,-8,7,-9,8,-6,7,-5,9,-7, 6,-8,7,-6,9,-7,8,-6,7,-9, 8,-6,7,-8,9,-7,6,-8,10,-9,
  6];

const traces = [IRRE, BHBD, FREU, MSS, GUT, BUCH, ROTE, EMING, BFO,
  GALG, OPP, SLE, BERGE, BRET, FELD, KIZ, ENDD, WARN];

const chart = echarts.init(document.getElementById('chart'));
const font = "'Liberation Sans', Arial, Helvetica, sans-serif";
const top0 = 109, rowH = 160, left0 = 173, plotW = 1800;

const grids = [], xAxes = [], yAxes = [], series = [];
stations.forEach((name, i) => {
  const last = i === stations.length - 1;
  grids.push({
    left: left0, top: top0 + i * rowH, width: plotW, height: rowH,
    show: true, borderColor: '#000', borderWidth: 2, backgroundColor: 'transparent'
  });
  xAxes.push({
    gridIndex: i, type: 'value', min: 0, max: xMax, interval: xTickStep, position: 'bottom',
    axisLine: { show: false, onZero: false },
    axisTick: { show: true, inside: true, length: 7, lineStyle: { color: '#000', width: 2 } },
    splitLine: { show: false },
    axisLabel: { show: last, color: '#000', fontSize: 36, fontFamily: font, margin: 6, showMaxLabel: false }
  });
  yAxes.push({
    gridIndex: i, type: 'value', min: -40, max: 40, interval: 40,
    axisLine: { show: false }, axisTick: { show: false }, splitLine: { show: false },
    axisLabel: {
      color: '#000', fontSize: 36, fontFamily: font, margin: 22,
      formatter: v => (v === 0 ? name : '')
    }
  });
  series.push({
    type: 'line', xAxisIndex: i, yAxisIndex: i,
    data: traces[i].map((v, k) => [k * dt, v]),
    showSymbol: false, symbol: 'none', silent: true,
    lineStyle: { color: '#000', width: 2 }
  });
});

chart.setOption({
  animation: false,
  backgroundColor: '#fff',
  grid: grids,
  xAxis: xAxes,
  yAxis: yAxes,
  series: series,
  graphic: [
    { type: 'text', x: 1080, y: 82,
      style: { text: titleText, fontSize: 34, fontWeight: 'bold', fontFamily: font, fill: '#000',
               align: 'center', verticalAlign: 'middle' } },
    { type: 'text', x: 1025, y: 3052,
      style: { text: xName, fontSize: 36, fontWeight: 'bold', fontFamily: font, fill: '#000',
               align: 'center', verticalAlign: 'middle' } }
  ]
});
</script>
</body>
</html>
